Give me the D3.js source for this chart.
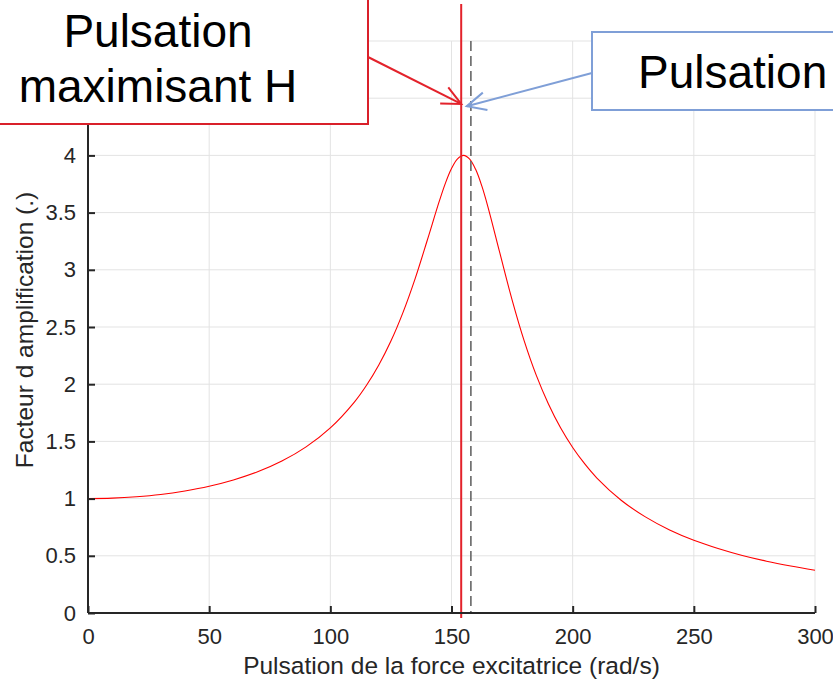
<!DOCTYPE html>
<html><head><meta charset="utf-8">
<script src="https://cdn.jsdelivr.net/npm/d3@7"></script>
<style>
html,body{margin:0;padding:0;background:#fff;}
svg{display:block;font-family:"Liberation Sans",Arial,Helvetica,sans-serif;}
</style></head>
<body>
<svg id="chart" width="833" height="682"></svg>
<script>
// ---- data ----
const omega = [0,10,20,30,40,50,60,70,80,90,100,110,115,120,125,130,135,140,145,147.5,150,152.5,155,157.5,160,162.5,165,170,175,180,185,190,195,200,205,210,220,230,240,250,260,270,280,290,300];
const amplification = [1.000,1.004,1.016,1.036,1.067,1.108,1.163,1.234,1.328,1.452,1.618,1.846,1.993,2.168,2.377,2.628,2.923,3.258,3.602,3.758,3.885,3.970,4.000,3.968,3.876,3.733,3.553,3.143,2.738,2.379,2.077,1.827,1.619,1.447,1.303,1.180,0.986,0.840,0.726,0.636,0.564,0.503,0.453,0.411,0.374];
const xTicks = [0,50,100,150,200,250,300];
const yTicks = [0,0.5,1,1.5,2,2.5,3,3.5,4];
const yGrid = [0.5,1,1.5,2,2.5,3,3.5,4,4.5,5];
const omegaMax = [154];      // pulsation maximisant H
const omegaProper = [158];   // pulsation propre
const xLabel = "Pulsation de la force excitatrice (rad/s)";
const yLabel = "Facteur d amplification (.)";
const redBoxLines = ["Pulsation","maximisant H"];
const blueBoxText = "Pulsation";

// ---- layout ----
const svg = d3.select("#chart");
const L = 88, R = 815, T = 41, B = 613;
const x = d3.scaleLinear().domain([0,300]).range([L,R]);
const y = d3.scaleLinear().domain([0,5]).range([B,T]);
const axisCol = "#262626", gridCol = "#e3e3e3";

// grid
const g = svg.append("g");
g.selectAll(".vg").data(xTicks.filter(d=>d>0)).join("line")
  .attr("x1",d=>x(d)).attr("x2",d=>x(d)).attr("y1",T).attr("y2",B)
  .attr("stroke",gridCol).attr("stroke-width",1);
g.selectAll(".hg").data(yGrid).join("line")
  .attr("x1",L).attr("x2",R).attr("y1",d=>y(d)).attr("y2",d=>y(d))
  .attr("stroke",gridCol).attr("stroke-width",1);

// curve
const line = d3.line().x((d,i)=>x(omega[i])).y(d=>y(d)).curve(d3.curveCatmullRom);
svg.append("path").datum(amplification).attr("d",line)
  .attr("fill","none").attr("stroke","#ff0000").attr("stroke-width",1.1);

// dashed proper pulsation line
svg.selectAll(".dl").data(omegaProper).join("line")
  .attr("x1",d=>x(d)).attr("x2",d=>x(d)).attr("y1",T).attr("y2",B)
  .attr("stroke","#666").attr("stroke-width",1.6).attr("stroke-dasharray","10,5");

// red max line
svg.selectAll(".rl").data(omegaMax).join("line")
  .attr("x1",d=>x(d)).attr("x2",d=>x(d)).attr("y1",4).attr("y2",B+5)
  .attr("stroke","#e3222b").attr("stroke-width",2);

// axes
const xAxis = d3.axisBottom(x).tickValues(xTicks).tickSize(-7).tickPadding(15).tickFormat(d3.format("d"));
const yAxis = d3.axisLeft(y).tickValues(yTicks).tickSize(-7).tickPadding(12).tickFormat(d=>String(d));
const gx = svg.append("g").attr("transform",`translate(0,${B})`).call(xAxis);
const gy = svg.append("g").attr("transform",`translate(${L},0)`).call(yAxis);
[gx,gy].forEach(a=>{
  a.select(".domain").attr("stroke",axisCol).attr("stroke-width",2);
  a.selectAll(".tick line").attr("stroke",axisCol).attr("stroke-width",2);
  a.selectAll(".tick text").attr("fill",axisCol).style("font-size","22px")
   .style("font-family","'Liberation Sans',Arial,sans-serif");
});
gx.select(".domain").attr("d",`M${L},0H${R}`);
gy.select(".domain").attr("d",`M0,${B}V${T}`);
gx.selectAll(".tick text").attr("dy","0.71em");

svg.append("text").attr("x",(L+R)/2).attr("y",674).attr("text-anchor","middle")
  .attr("fill",axisCol).style("font-size","24.5px").text(xLabel);
svg.append("text").attr("transform",`translate(33,330) rotate(-90)`)
  .attr("text-anchor","middle").attr("fill",axisCol).style("font-size","24.5px").text(yLabel);

// markers
const defs = svg.append("defs");
function mk(id,col){
  defs.append("marker").attr("id",id).attr("markerUnits","userSpaceOnUse")
    .attr("viewBox","-22 -12 26 24").attr("refX",0).attr("refY",0)
    .attr("markerWidth",26).attr("markerHeight",24).attr("orient","auto")
    .append("path").attr("d","M-19,-9L0,0L-19,9").attr("fill","none")
    .attr("stroke",col).attr("stroke-width",2);
}
mk("ar","#e3222b"); mk("ab","#7f9fd7");

// red annotation box
svg.append("rect").attr("x",-3).attr("y",-3).attr("width",371).attr("height",127)
  .attr("fill","#fff").attr("stroke","#d9202a").attr("stroke-width",2);
svg.append("text").attr("text-anchor","middle").style("font-size","46px").attr("fill","#000")
  .selectAll("tspan").data(redBoxLines).join("tspan")
  .attr("x",158).attr("y",(d,i)=>47+i*55).text(d=>d);
svg.append("line").attr("x1",368).attr("y1",57).attr("x2",x(omegaMax[0])).attr("y2",y(4.45))
  .attr("stroke","#e3222b").attr("stroke-width",2).attr("marker-end","url(#ar)");

// blue annotation box
svg.append("rect").attr("x",592).attr("y",32).attr("width",300).attr("height",78)
  .attr("fill","#fff").attr("stroke","#7f9fd7").attr("stroke-width",2);
svg.append("text").attr("x",638).attr("y",88).style("font-size","46px").attr("fill","#000").text(blueBoxText);
svg.append("line").attr("x1",592).attr("y1",73).attr("x2",x(156.3)).attr("y2",y(4.43))
  .attr("stroke","#7f9fd7").attr("stroke-width",2).attr("marker-end","url(#ab)");
</script>
</body></html>
